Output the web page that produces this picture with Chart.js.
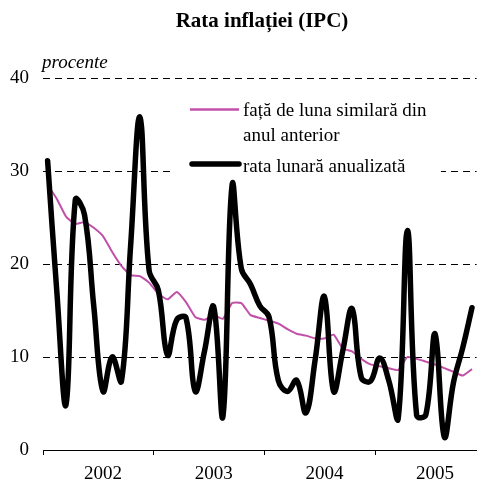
<!DOCTYPE html>
<html>
<head>
<meta charset="utf-8">
<script src="https://cdn.jsdelivr.net/npm/chart.js@4/dist/chart.umd.min.js"></script>
<style>
  html, body { margin: 0; padding: 0; background: #fff; }
  #wrap { width: 480px; height: 483px; position: relative; }
</style>
</head>
<body>
<div id="wrap"><canvas id="c" width="480" height="483"></canvas></div>
<script>
// ---- data ----
const years = ['2002', '2003', '2004', '2005'];
const monthNames = ['ian','feb','mar','apr','mai','iun','iul','aug','sep','oct','nov','dec'];
const monthCount = 47; // ian 2002 – nov 2005
const categories = [];
for (let k = 0; k < monthCount; k++) {
  categories.push(monthNames[k % 12] + ' ' + years[Math.floor(k / 12)]);
}
// rata lunară anualizată (%)
const monthlyAnnualized = [31.1, 17.0, 4.9, 26.9, 25.3, 15.5, 6.3, 10.0, 7.4, 22.0,
  35.8, 19.3, 17.2, 10.2, 14.0, 14.2, 6.3, 10.6, 15.4, 3.6,
  28.5, 19.5, 17.8, 15.5, 14.3, 7.5, 6.3, 7.5, 4.0, 9.7,
  16.5, 6.3, 10.7, 15.2, 7.8, 7.4, 9.9, 7.4, 3.4, 23.6,
  3.7, 3.8, 12.5, 1.4, 7.3, 11.0, 15.3];
// față de luna similară din anul anterior (%)
const yearOnYear = [28.5, 27.0, 25.1, 24.3, 24.5, 23.9, 23.0, 21.3, 19.8, 18.8,
  18.7, 18.0, 16.8, 16.2, 17.0, 15.9, 14.3, 14.0, 14.5, 14.1,
  15.8, 15.8, 14.5, 14.2, 13.9, 13.6, 13.0, 12.5, 12.3, 12.0,
  12.0, 12.4, 10.9, 10.6, 9.8, 9.2, 9.0, 8.8, 8.6, 10.0,
  9.8, 9.5, 9.2, 8.8, 8.4, 8.0, 8.7];
const yTicks = [0, 10, 20, 30, 40];

const titleText = 'Rata inflației (IPC)';
const unitText = 'procente';
const legendYoY = ['față de luna similară din', 'anul anterior'];
const legendMonthly = 'rata lunară anualizată';

const SERIF = "'Liberation Serif', 'Times New Roman', Times, serif";
const PINK = '#C150A9';

const decor = {
  id: 'decor',
  beforeDatasetsDraw(chart) {
    const ctx = chart.ctx;
    ctx.save();
    ctx.fillStyle = '#fff';
    ctx.fillRect(173, 92, 268, 84);
    ctx.restore();
  },
  afterDatasetsDraw(chart) {
    const ctx = chart.ctx;
    ctx.save();
    // legend
    ctx.lineCap = 'butt';
    ctx.strokeStyle = PINK; ctx.lineWidth = 2.5;
    ctx.beginPath(); ctx.moveTo(190, 109.5); ctx.lineTo(239, 109.5); ctx.stroke();
    ctx.strokeStyle = '#000'; ctx.lineWidth = 5.5; ctx.lineCap = 'round';
    ctx.beginPath(); ctx.moveTo(192, 164); ctx.lineTo(239, 164); ctx.stroke();
    ctx.fillStyle = '#000';
    ctx.font = '19px ' + SERIF;
    ctx.textAlign = 'left'; ctx.textBaseline = 'middle';
    ctx.fillText(legendYoY[0], 243, 111);
    ctx.fillText(legendYoY[1], 243, 136);
    ctx.fillText(legendMonthly, 243, 167);
    ctx.restore();
  },
  afterDraw(chart) {
    const ctx = chart.ctx;
    ctx.save();
    ctx.fillStyle = '#000';
    ctx.textBaseline = 'middle';
    ctx.textAlign = 'center';
    ctx.font = 'bold 21px ' + SERIF;
    ctx.fillText(titleText, 262, 22);
    ctx.textAlign = 'left';
    ctx.font = 'italic 19px ' + SERIF;
    ctx.fillText(unitText, 42, 63);
    ctx.restore();
  }
};

new Chart(document.getElementById('c'), {
  type: 'line',
  data: {
    labels: categories,
    datasets: [
      {
        label: legendMonthly,
        data: monthlyAnnualized,
        borderColor: '#000',
        borderWidth: 5.5,
        pointRadius: 0,
        tension: 0.4,
        borderCapStyle: 'round',
        borderJoinStyle: 'round',
        fill: false
      },
      {
        label: legendYoY.join(' '),
        data: yearOnYear,
        borderColor: PINK,
        borderWidth: 2,
        pointRadius: 0,
        tension: 0.15,
        fill: false
      }
    ]
  },
  options: {
    responsive: false,
    animation: false,
    events: [],
    layout: { padding: { top: 78, left: 0, right: 0, bottom: 0 } },
    plugins: { legend: { display: false }, title: { display: false }, tooltip: { enabled: false } },
    scales: {
      x: {
        type: 'category',
        offset: true,
        afterFit: (s) => { s.height = 33; },
        grid: {
          offset: true,
          drawOnChartArea: false,
          drawTicks: true,
          tickLength: 5,
          lineWidth: 1,
          color: (c) => (c.index % 12 === 0 ? '#000' : 'rgba(0,0,0,0)')
        },
        border: { display: true, color: '#000', width: 1 },
        ticks: {
          autoSkip: false,
          maxRotation: 0,
          minRotation: 0,
          padding: 8,
          color: '#000',
          font: { family: SERIF, size: 19 },
          callback: (v, i) => (i % 12 === 6 ? years[Math.floor(i / 12)] : '')
        }
      },
      y: {
        min: 0,
        max: 40,
        afterFit: (s) => { s.width = 43; },
        afterBuildTicks: (s) => { s.ticks = yTicks.map(v => ({ value: v })); },
        grid: {
          drawTicks: false,
          lineWidth: 1,
          color: (c) => (c.tick && c.tick.value === 0 ? 'rgba(0,0,0,0)' : '#000')
        },
        border: { display: false, dash: [7, 5] },
        ticks: {
          padding: 14,
          color: '#000',
          font: { family: SERIF, size: 19 }
        }
      }
    }
  },
  plugins: [decor]
});
</script>
</body>
</html>
